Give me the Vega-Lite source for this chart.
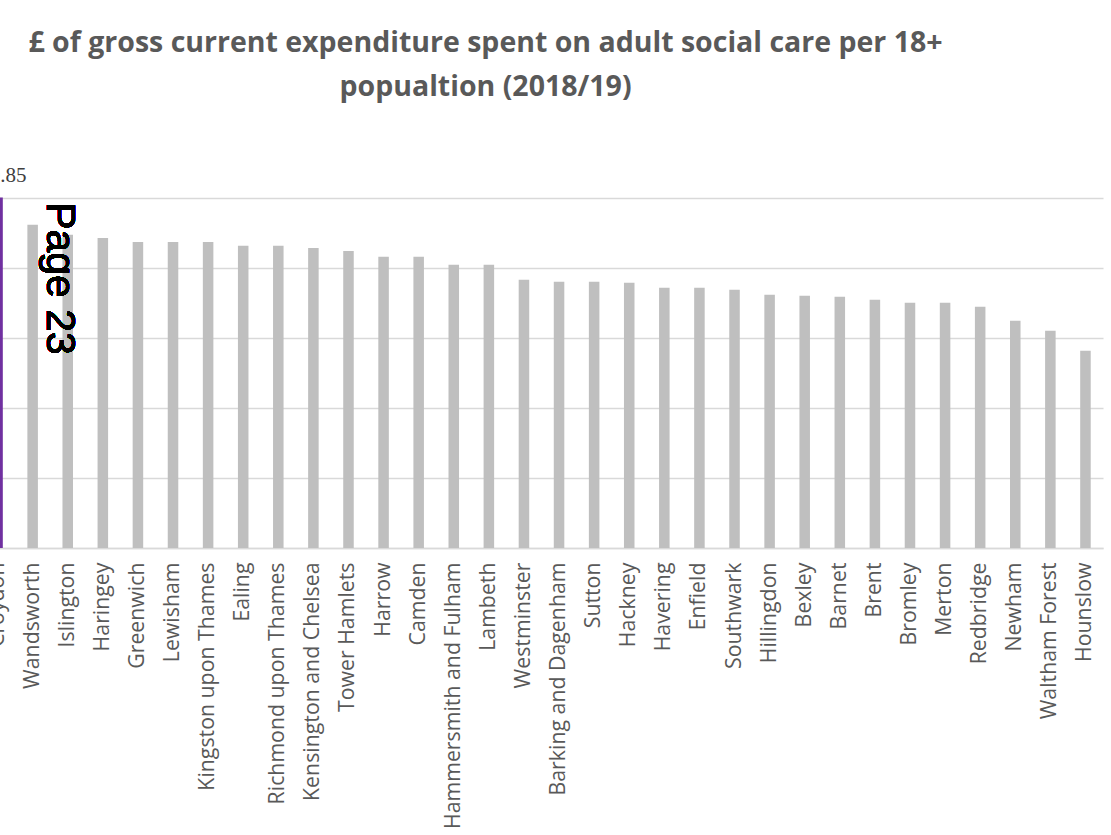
{
  "$schema": "https://vega.github.io/schema/vega-lite/v6.json",
  "autosize": {"type": "none"},
  "padding": {"top": 198, "left": 0, "right": 8, "bottom": 287},
  "width": 1103,
  "height": 350,
  "background": "white",
  "title": {
    "text": ["£ of gross current expenditure spent on adult social care per 18+", "popualtion (2018/19)"],
    "font": "Open Sans",
    "fontSize": 28.5,
    "fontWeight": "bold",
    "color": "#595959",
    "anchor": "middle",
    "frame": "group",
    "dx": -66,
    "lineHeight": 44,
    "offset": 64
  },
  "config": {"view": {"stroke": null}},
  "data": {"values": [
    {"borough": "Croydon", "value": 500.85},
    {"borough": "Wandsworth", "value": 461.9},
    {"borough": "Islington", "value": 447.6},
    {"borough": "Haringey", "value": 442.9},
    {"borough": "Greenwich", "value": 437.1},
    {"borough": "Lewisham", "value": 437.1},
    {"borough": "Kingston upon Thames", "value": 437.1},
    {"borough": "Ealing", "value": 431.9},
    {"borough": "Richmond upon Thames", "value": 431.9},
    {"borough": "Kensington and Chelsea", "value": 428.6},
    {"borough": "Tower Hamlets", "value": 424.3},
    {"borough": "Harrow", "value": 416.1},
    {"borough": "Camden", "value": 416.1},
    {"borough": "Hammersmith and Fulham", "value": 404.7},
    {"borough": "Lambeth", "value": 404.7},
    {"borough": "Westminster", "value": 383.3},
    {"borough": "Barking and Dagenham", "value": 380.4},
    {"borough": "Sutton", "value": 380.4},
    {"borough": "Hackney", "value": 379.0},
    {"borough": "Havering", "value": 371.9},
    {"borough": "Enfield", "value": 371.9},
    {"borough": "Southwark", "value": 369.0},
    {"borough": "Hillingdon", "value": 361.9},
    {"borough": "Bexley", "value": 360.4},
    {"borough": "Barnet", "value": 359.0},
    {"borough": "Brent", "value": 354.7},
    {"borough": "Bromley", "value": 350.4},
    {"borough": "Merton", "value": 350.4},
    {"borough": "Redbridge", "value": 344.7},
    {"borough": "Newham", "value": 324.7},
    {"borough": "Waltham Forest", "value": 310.4},
    {"borough": "Hounslow", "value": 281.9}
  ]},
  "encoding": {
    "x": {
      "field": "borough",
      "type": "nominal",
      "sort": null,
      "scale": {"range": [-20, 1103], "paddingInner": 0.7, "paddingOuter": 0.35},
      "axis": {
        "title": null,
        "labelAngle": -90,
        "labelFont": "Open Sans",
        "labelFontSize": 21.3,
        "labelColor": "#595959",
        "ticks": false,
        "labelPadding": 14,
        "domainColor": "#D9D9D9",
        "domainWidth": 1.5,
        "labelOverlap": false,
        "labelLimit": 400
      }
    },
    "y": {
      "field": "value",
      "type": "quantitative",
      "scale": {"domain": [0, 500], "nice": false},
      "axis": {
        "title": null,
        "labels": false,
        "ticks": false,
        "domain": false,
        "values": [0, 100, 200, 300, 400, 500],
        "gridColor": "#D9D9D9",
        "gridWidth": 1.5
      }
    }
  },
  "layer": [
    {
      "mark": {"type": "bar"},
      "encoding": {
        "color": {
          "condition": {"test": "datum.borough === 'Croydon'", "value": "#7030A0"},
          "value": "#BFBFBF"
        }
      }
    },
    {
      "transform": [{"filter": "datum.borough === 'Croydon'"}],
      "mark": {"type": "text", "font": "Liberation Serif", "fontSize": 21, "color": "#404040", "baseline": "alphabetic", "dy": -15},
      "encoding": {"text": {"field": "value", "type": "quantitative", "format": ".2f"}}
    },
    {
      "mark": {"type": "text", "font": "Liberation Sans", "fontSize": 41, "color": "#000000", "angle": 90, "align": "center", "baseline": "middle", "dy": 9},
      "encoding": {
        "x": {"datum": "Islington", "type": "nominal"},
        "y": {"datum": 385, "type": "quantitative"},
        "text": {"value": "Page 23"}
      }
    }
  ]
}
